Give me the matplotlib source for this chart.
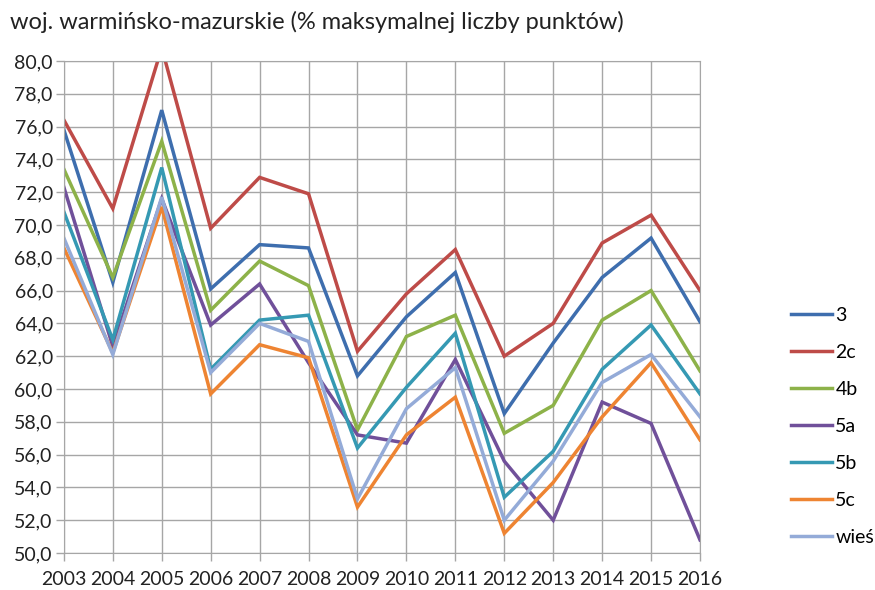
import numpy as np
import matplotlib
matplotlib.use('Agg')
import matplotlib.pyplot as plt
from matplotlib.ticker import FuncFormatter

years = list(range(2003, 2017))

s_3 = [75.8, 66.5, 77.0, 66.1, 68.8, 68.6, 60.8, 64.4, 67.1, 58.5, 62.8, 66.8, 69.2, 64.1]
s_2c = [76.4, 71.0, 80.8, 69.8, 72.9, 71.9, 62.3, 65.8, 68.5, 62.0, 64.0, 68.9, 70.6, 66.0]
s_4b = [73.4, 66.8, 75.1, 64.8, 67.8, 66.3, 57.5, 63.2, 64.5, 57.3, 59.0, 64.2, 66.0, 61.1]
s_5a = [72.3, 62.6, 71.6, 63.9, 66.4, 61.6, 57.2, 56.7, 61.8, 55.6, 52.0, 59.2, 57.9, 50.8]
s_5b = [70.8, 63.0, 73.5, 61.2, 64.2, 64.5, 56.4, 60.1, 63.4, 53.4, 56.2, 61.2, 63.9, 59.7]
s_5c = [68.6, 62.2, 71.1, 59.7, 62.7, 61.9, 52.8, 57.2, 59.5, 51.2, 54.3, 58.3, 61.6, 56.9]
s_wies = [69.2, 62.1, 71.7, 61.0, 64.0, 62.9, 53.3, 58.8, 61.3, 52.0, 55.6, 60.4, 62.1, 58.3]

series = [('3', s_3, '#3E6EAE'), ('2c', s_2c, '#BE4B48'), ('4b', s_4b, '#8DB249'),
          ('5a', s_5a, '#70509A'), ('5b', s_5b, '#3599B3'), ('5c', s_5c, '#EE8432'),
          ('wieś', s_wies, '#94ABD8')]

plt.rcParams['font.family'] = ['Lato', 'DejaVu Sans']

fig = plt.figure(figsize=(8.75, 5.9), dpi=100)
ax = fig.add_axes([0.073, 0.0627, 0.727, 0.834])

for name, vals, col in series:
    ax.plot(years, vals, color=col, lw=2.5, label=name, solid_joinstyle='miter')

ax.set_xlim(2003, 2016)
ax.set_ylim(50, 80)
ax.set_xticks(years)
ax.set_yticks(np.arange(50, 81, 2))
ax.yaxis.set_major_formatter(FuncFormatter(lambda v, p: ('%.1f' % v).replace('.', ',')))
ax.grid(True, color='#A6A6A6', lw=1)
ax.set_axisbelow(True)
for sp in ax.spines.values():
    sp.set_color('#A6A6A6')
ax.tick_params(axis='both', colors='#A6A6A6', length=6, width=1, labelcolor='#222222',
               labelsize=14)
ax.tick_params(axis='x', pad=7)
ax.tick_params(axis='y', pad=2)

fig.text(0.011, 0.962, 'woj. warmińsko-mazurskie (% maksymalnej liczby punktów)',
         fontsize=17, color='#222222', va='center', ha='left')

leg = ax.legend(loc='center left', bbox_to_anchor=(1.115, 0.257), frameon=False,
                fontsize=14, handlelength=2.15, handletextpad=0.15, labelspacing=1.03)

plt.savefig('out.png', dpi=100)
